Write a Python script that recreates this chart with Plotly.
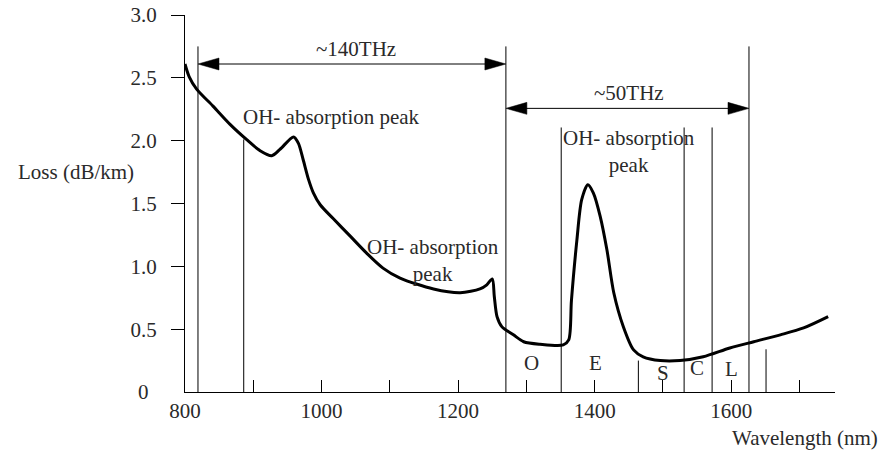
import plotly.graph_objects as go

# ---- data ----
wavelength = [800, 806, 817, 841, 866, 890, 910, 927, 939, 959, 966, 973, 981, 988, 998,
              1017, 1042, 1066, 1090, 1115, 1164, 1203, 1232, 1242, 1250, 1253, 1257, 1264,
              1281, 1296, 1320, 1354, 1362, 1366, 1374, 1381, 1390, 1398, 1408, 1418, 1428,
              1442, 1457, 1471, 1496, 1525, 1559, 1598, 1633, 1672, 1706, 1742]
loss = [2.61, 2.51, 2.41, 2.275, 2.13, 2.01, 1.92, 1.88, 1.93, 2.03, 1.98, 1.85, 1.69, 1.585, 1.49,
        1.38, 1.24, 1.105, 0.986, 0.906, 0.82, 0.79, 0.82, 0.853, 0.90, 0.76, 0.60, 0.52,
        0.455, 0.40, 0.38, 0.375, 0.415, 0.73, 1.21, 1.53, 1.65, 1.585, 1.40, 1.13, 0.79,
        0.52, 0.335, 0.28, 0.25, 0.25, 0.28, 0.35, 0.40, 0.455, 0.51, 0.60]

band_edges = [819, 886, 1270, 1351, 1464, 1531, 1572, 1626, 1651]
band_tops = [2.75, 2.01, 2.75, 2.105, 0.25, 2.105, 2.105, 2.75, 0.34]

band_names = ["O", "E", "S", "C", "L"]
band_label_x = [1308, 1401, 1500, 1550, 1601]
band_label_y = [0.23, 0.23, 0.15, 0.19, 0.18]

spans = [("~140THz", 819, 1270, 2.61, 1050, 2.73),
         ("~50THz", 1270, 1626, 2.257, 1450, 2.376)]

peak_labels = ["OH- absorption peak", "OH- absorption<br>peak", "OH- absorption<br>peak"]
peak_label_x = [1014, 1163, 1451]
peak_label_y = [2.185, 1.05, 1.91]

x_ticks = [800, 900, 1000, 1100, 1200, 1300, 1400, 1500, 1600, 1700]
x_ticktext = ["800", "", "1000", "", "1200", "", "1400", "", "1600", ""]
y_ticks = [0.5, 1.0, 1.5, 2.0, 2.5, 3.0]
y_ticktext = ["0.5", "1.0", "1.5", "2.0", "2.5", "3.0"]

X_RANGE = [800, 1752]
Y_RANGE = [0, 3.0]

# ---- layout geometry (page pixels; body margin removed via post_script) ----
W, H = 883, 450
PL, PR, PT, PB = 185, 835, 15, 392          # plot edges in page pixels
ML, MT, MR, MB = PL, PT, W - PR, H - PB
pw, ph = PR - PL, PB - PT
nm_per_px = (X_RANGE[1] - X_RANGE[0]) / pw
u_per_px = (Y_RANGE[1] - Y_RANGE[0]) / ph

FONT = "Liberation Serif, Times New Roman, serif"
TXT = "#2a2a2a"
FS = 21

fig = go.Figure()
fig.add_trace(go.Scatter(x=wavelength, y=loss, mode="lines",
                         line=dict(color="black", width=3, shape="spline", smoothing=0.8),
                         hoverinfo="skip", showlegend=False))

shapes = []
for bx, bt in zip(band_edges, band_tops):
    shapes.append(dict(type="line", xref="x", yref="y", x0=bx, x1=bx, y0=0, y1=bt,
                       line=dict(color="black", width=1)))

annotations = []
hl = 21 * nm_per_px
hh = 6 * u_per_px


def ann(**kw):
    base = dict(showarrow=False, xanchor="center", yanchor="middle",
                font=dict(family=FONT, size=FS, color=TXT))
    base.update(kw)
    annotations.append(base)


for text, x0, x1, yy, tx, ty in spans:
    shapes.append(dict(type="line", xref="x", yref="y", x0=x0 + hl * 0.5, x1=x1 - hl * 0.5,
                       y0=yy, y1=yy, line=dict(color="black", width=1)))
    shapes.append(dict(type="path", xref="x", yref="y",
                       path=f"M{x0},{yy} L{x0 + hl},{yy + hh} L{x0 + hl},{yy - hh} Z",
                       fillcolor="black", line=dict(color="black", width=0.5)))
    shapes.append(dict(type="path", xref="x", yref="y",
                       path=f"M{x1},{yy} L{x1 - hl},{yy + hh} L{x1 - hl},{yy - hh} Z",
                       fillcolor="black", line=dict(color="black", width=0.5)))
    ann(x=tx, y=ty, xref="x", yref="y", text=text)

for t, px_, py_ in zip(peak_labels, peak_label_x, peak_label_y):
    ann(x=px_, y=py_, xref="x", yref="y", text=t, align="center")

for t, bx, by in zip(band_names, band_label_x, band_label_y):
    ann(x=bx, y=by, xref="x", yref="y", text=t)


def px_x(p):
    return (p - PL) / pw


def px_y(p):
    return (PB - p) / ph


ann(x=px_x(143), y=0, xref="paper", yref="y", text="0")
ann(x=px_x(75.5), y=px_y(172), xref="paper", yref="paper", text="Loss (dB/km)")
ann(x=px_x(880), y=px_y(438), xref="paper", yref="paper", text="Wavelength (nm)",
    xanchor="right")

fig.update_layout(
    template="none",
    width=W, height=H, margin=dict(l=ML, r=MR, t=MT, b=MB, autoexpand=False),
    paper_bgcolor="white", plot_bgcolor="white",
    shapes=shapes, annotations=annotations,
    xaxis=dict(range=X_RANGE, showgrid=False, zeroline=False, showline=True, automargin=False,
               linecolor="black", linewidth=1.3, ticks="inside", ticklen=12,
               tickcolor="black", tickwidth=1, tickvals=x_ticks, ticktext=x_ticktext,
               ticklabeloverflow="allow",
               tickfont=dict(family=FONT, size=FS, color=TXT)),
    yaxis=dict(range=Y_RANGE, showgrid=False, zeroline=False, showline=True, automargin=False,
               linecolor="black", linewidth=1.3, ticks="outside", ticklen=13,
               tickcolor="black", tickwidth=1, tickvals=y_ticks, ticktext=y_ticktext,
               ticklabelstandoff=10, ticklabeloverflow="allow",
               tickfont=dict(family=FONT, size=FS, color=TXT)),
)

fig.write_html("out.html", config={"displayModeBar": False},
               post_script="document.body.style.margin='0';document.body.style.overflow='hidden';")
